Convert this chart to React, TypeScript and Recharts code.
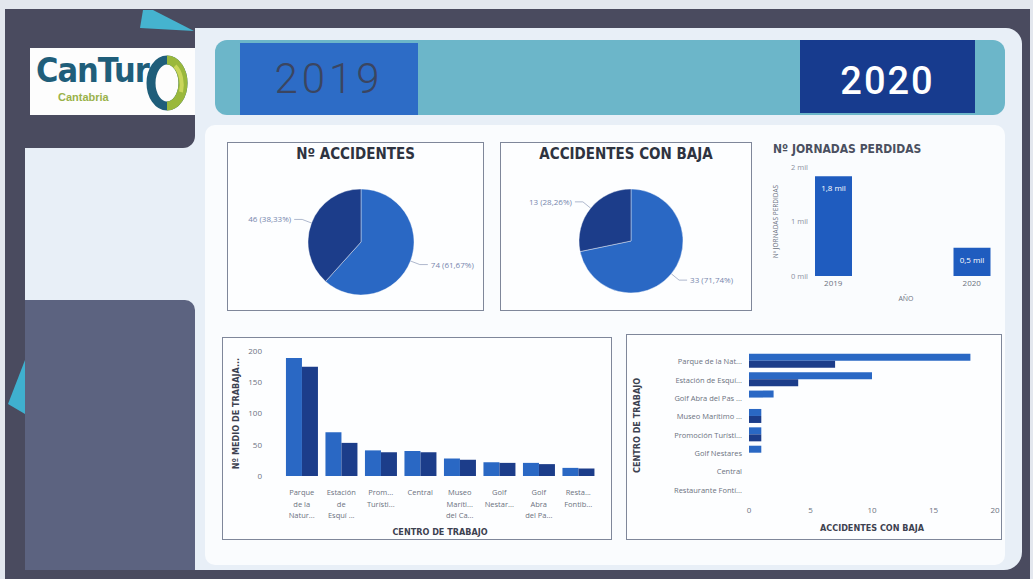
import React from 'react'
import { PieChart, Pie, Cell, BarChart, Bar, XAxis, YAxis, Label, LabelList } from 'recharts'

// pies
const years = ['2019', '2020']
const accidentes = [74, 46]
const accidentesBaja = [33, 13]

// jornadas perdidas por año
const jornadasPerdidas = [1830, 520]

// nº medio de trabajadores por centro
const centros = [
  'Parque de la Naturaleza de Cabárceno',
  'Estación de Esquí Alto Campoo',
  'Promoción Turística',
  'Central',
  'Museo Marítimo del Cantábrico',
  'Golf Nestares',
  'Golf Abra del Pas',
  'Restaurante Fontibre',
]
const centrosTicks = [
  ['Parque', 'de la', 'Natur...'],
  ['Estación', 'de', 'Esquí ...'],
  ['Prom...', 'Turísti...'],
  ['Central'],
  ['Museo', 'Maríti...', 'del Ca...'],
  ['Golf', 'Nestar...'],
  ['Golf', 'Abra', 'del Pa...'],
  ['Resta...', 'Fontib...'],
]
const trabajadores2019 = [189, 70, 41, 40, 28, 22, 21, 13]
const trabajadores2020 = [175, 53, 38, 38, 26, 21, 19, 12]

// accidentes con baja por centro
const centrosBaja = [
  'Parque de la Nat...',
  'Estación de Esquí...',
  'Golf Abra del Pas ...',
  'Museo Marítimo ...',
  'Promoción Turísti...',
  'Golf Nestares',
  'Central',
  'Restaurante Fontí...',
]
const baja2019 = [18, 10, 2, 1, 1, 1, 0, 0]
const baja2020 = [7, 4, 0, 1, 1, 0, 0, 0]

const BLUE = '#2a68c4'
const NAVY = '#1c3d8a'
const TITLE_FONT = "'DejaVu Sans Condensed', 'DejaVu Sans', sans-serif"
const AXIS_TITLE = { fontSize: 9, fontWeight: 700, fill: '#3d4250', fontFamily: TITLE_FONT }

const accidentesData = years.map((y, i) => ({ year: y, value: accidentes[i] }))
const bajaData = years.map((y, i) => ({ year: y, value: accidentesBaja[i] }))
const jornadasData = years.map((y, i) => ({ year: y, value: jornadasPerdidas[i] }))
const trabajadoresData = centros.map((c, i) => ({ centro: c, y2019: trabajadores2019[i], y2020: trabajadores2020[i] }))
const bajaCentroData = centrosBaja.map((c, i) => ({ centro: c, y2019: baja2019[i], y2020: baja2020[i] }))

const RADIAN = Math.PI / 180

const pieLabel = (props: any) => {
  const { cx, cy, midAngle, outerRadius, value, percent } = props
  const cos = Math.cos(-midAngle * RADIAN)
  const sin = Math.sin(-midAngle * RADIAN)
  const sx = cx + outerRadius * cos
  const sy = cy + outerRadius * sin
  const mx = cx + (outerRadius + 10) * cos
  const my = cy + (outerRadius + 10) * sin
  const dir = cos >= 0 ? 1 : -1
  const ex = mx + dir * 8
  const txt = `${value} (${(percent * 100).toFixed(2).replace('.', ',')}%)`
  return (
    <g>
      <path d={`M${sx},${sy}L${mx},${my}L${ex},${my}`} stroke="#9aa6c0" strokeWidth={0.8} fill="none" />
      <text x={ex + dir * 3} y={my} dy={3} textAnchor={dir > 0 ? 'start' : 'end'} fontSize={8} fill="#7686ad">
        {txt}
      </text>
    </g>
  )
}

const CentroTick = (props: any) => {
  const { x, y, index } = props
  const lines = centrosTicks[index] || []
  return (
    <text x={x} y={y} textAnchor="middle" fontSize={7.5} fill="#6c7280">
      {lines.map((l, i) => (
        <tspan key={i} x={x} dy={i === 0 ? 11 : 11.5}>{l}</tspan>
      ))}
    </text>
  )
}

const BajaTick = (props: any) => (
  <text x={props.x} y={props.y} dy={3} textAnchor="end" fontSize={7.5} fill="#6c7280">
    {props.payload.value}
  </text>
)

const milLabel = (props: any) => {
  const { x, y, width, value } = props
  return (
    <text x={Number(x) + Number(width) / 2} y={Number(y) + 15} textAnchor="middle" fontSize={8} fill="#ffffff">
      {`${(Number(value) / 1000).toFixed(1).replace('.', ',')} mil`}
    </text>
  )
}

const box = (left: number, top: number, width: number, height: number, extra: React.CSSProperties = {}): React.CSSProperties => ({
  position: 'absolute', left, top, width, height, boxSizing: 'border-box', ...extra,
})

function PiePanel({ left, width, title, data, cx, cy, r }: any) {
  return (
    <>
      <div style={box(left, 142, width, 169, { border: '1px solid #7f879a', background: '#fdfeff' })} />
      <div style={box(left, 144, width, 20, { textAlign: 'center', fontFamily: TITLE_FONT, fontSize: 15, fontWeight: 700, color: '#2e3340', lineHeight: '20px' })}>
        {title}
      </div>
      <div style={box(left, 142, width, 169)}>
        <PieChart width={width} height={169}>
          <Pie data={data} dataKey="value" nameKey="year" cx={cx} cy={cy} outerRadius={r}
            startAngle={90} endAngle={-270} stroke="#ffffff" strokeWidth={0.4}
            label={pieLabel} labelLine={false} isAnimationActive={false}>
            <Cell fill={BLUE} />
            <Cell fill={NAVY} />
          </Pie>
        </PieChart>
      </div>
    </>
  )
}

export default function App() {
  return (
    <div style={{ position: 'fixed', left: 0, top: 0, width: 1033, height: 579, overflow: 'hidden', background: '#4a4b5f', fontFamily: "'Open Sans', sans-serif" }}>
      {/* photo edges */}
      <div style={box(0, 0, 1033, 9, { background: '#e3e7ee' })} />
      <div style={box(0, 0, 5, 579, { background: '#e3e7ee' })} />
      <div style={box(1030, 0, 3, 579, { background: '#e3e7ee' })} />

      {/* main light panel */}
      <div style={box(25, 28, 997, 542, { background: '#e8eff7', borderRadius: '0 16px 18px 0' })} />
      <div style={box(5, 9, 190, 139, { background: '#4a4b5f', borderBottomRightRadius: 12 })} />
      <div style={box(25, 300, 170, 270, { background: '#5c6380', borderTopRightRadius: 10 })} />
      <svg style={box(0, 0, 1033, 579)} width={1033} height={579}>
        <polygon points="143,10 153,10 194,31 140,28" fill="#45b3cf" />
        <polygon points="25,360 25,414 8,404" fill="#3fb0cf" />
      </svg>

      {/* logo */}
      <div style={box(30, 48, 165, 67, { background: '#fdfdfd' })} />
      <div style={box(36, 50, 112, 40, { fontFamily: "'DejaVu Sans Condensed', sans-serif", fontWeight: 700, fontSize: 34, color: '#1f5e7a', letterSpacing: -1, lineHeight: '40px' })}>
        CanTur
      </div>
      <div style={box(58, 90, 80, 14, { fontFamily: "'Liberation Sans', sans-serif", fontWeight: 700, fontSize: 11, color: '#9ab24a', lineHeight: '14px' })}>
        Cantabria
      </div>
      <svg style={box(145, 52, 48, 60)} width={48} height={60}>
        <ellipse cx={22} cy={31} rx={16} ry={23} fill="none" stroke="#1f5e7a" strokeWidth={9} />
        <path d="M22,8 A16,23 0 0 1 22,54" fill="none" stroke="#9ab83c" strokeWidth={9} />
        <path d="M30,14 A16,23 0 0 1 36,40" fill="none" stroke="#c9d65a" strokeWidth={4} />
      </svg>

      {/* inner white area */}
      <div style={box(205, 125, 800, 440, { background: '#fafcfe', borderRadius: 10 })} />

      {/* header */}
      <div style={box(215, 40, 790, 75, { background: '#6cb6c9', borderRadius: 12 })} />
      <div style={box(240, 43, 178, 72, { background: '#2d6cc6', color: '#3b4560', fontFamily: 'Roboto, sans-serif', fontWeight: 300, fontSize: 42, letterSpacing: 4, textAlign: 'center', lineHeight: '88px' })}>
        <span style={{ position: 'relative', top: -8 }}>2019</span>
      </div>
      <div style={box(800, 40, 175, 73, { background: '#173b8e', color: '#ffffff', fontFamily: 'Roboto, sans-serif', fontWeight: 500, fontSize: 38, letterSpacing: 2, textAlign: 'center', lineHeight: '82px' })}>
        2020
      </div>

      {/* pies */}
      <PiePanel left={227} width={257} title="Nº ACCIDENTES" data={accidentesData} cx={129} cy={95} r={53} />
      <PiePanel left={500} width={252} title="ACCIDENTES CON BAJA" data={bajaData} cx={126} cy={94} r={52} />

      {/* jornadas perdidas */}
      <div style={box(773, 140, 230, 18, { fontFamily: TITLE_FONT, fontWeight: 700, fontSize: 12, color: '#4a5060', lineHeight: '18px' })}>
        Nº JORNADAS PERDIDAS
      </div>
      <div style={box(765, 160, 240, 145)}>
        <BarChart width={240} height={145} data={jornadasData} margin={{ top: 7, right: 5, bottom: 4, left: 4 }}>
          <XAxis dataKey="year" axisLine={false} tickLine={false} tickSize={2} tickMargin={2} height={25}
            padding={{ left: -48, right: -41 }} tick={{ fontSize: 8, fill: '#6c7280' }}>
            <Label value="AÑO" position="insideBottom" offset={0} style={{ fontSize: 7, fill: '#6c7280' }} />
          </XAxis>
          <YAxis domain={[0, 2000]} ticks={[0, 1000, 2000]} width={43} axisLine={false} tickLine={false}
            tickSize={2} tickMargin={2} tick={{ fontSize: 7.5, fill: '#8a90a0' }} tickFormatter={(v) => `${v / 1000} mil`}>
            <Label value="Nº JORNADAS PERDIDAS" angle={-90} position="insideLeft" offset={7}
              style={{ textAnchor: 'middle', fontSize: 6.5, fill: '#6a7080' }} />
          </YAxis>
          <Bar dataKey="value" fill="#1f5cbf" barSize={37} isAnimationActive={false}>
            <LabelList dataKey="value" content={milLabel} />
          </Bar>
        </BarChart>
      </div>

      {/* nº medio de trabajadores */}
      <div style={box(222, 337, 390, 203, { border: '1px solid #7f879a', background: '#fdfeff' })} />
      <div style={box(222, 337, 390, 203)}>
        <BarChart width={390} height={203} data={trabajadoresData} margin={{ top: 14, right: 14, bottom: 2, left: 10 }}
          barCategoryGap="10%" barGap={0}>
          <XAxis dataKey="centro" axisLine={false} tickLine={false} interval={0} height={62} tick={<CentroTick />}>
            <Label value="CENTRO DE TRABAJO" position="insideBottom" offset={3} style={AXIS_TITLE} />
          </XAxis>
          <YAxis domain={[0, 200]} ticks={[0, 50, 100, 150, 200]} width={50} axisLine={false} tickLine={false}
            tickSize={6} tickMargin={14} tick={{ fontSize: 8, fill: '#6c7280' }}>
            <Label value="Nº MEDIO DE TRABAJA..." angle={-90} position="insideLeft" offset={4}
              style={{ ...AXIS_TITLE, textAnchor: 'middle' }} />
          </YAxis>
          <Bar dataKey="y2019" name="2019" fill={BLUE} isAnimationActive={false} />
          <Bar dataKey="y2020" name="2020" fill={NAVY} isAnimationActive={false} />
        </BarChart>
      </div>

      {/* accidentes con baja por centro */}
      <div style={box(626, 334, 376, 206, { border: '1px solid #7f879a', background: '#fdfeff' })} />
      <div style={box(626, 334, 376, 206)}>
        <BarChart layout="vertical" width={376} height={206} data={bajaCentroData}
          margin={{ top: 18, right: 7, bottom: 6, left: 10 }} barCategoryGap="10%" barGap={0}>
          <XAxis type="number" domain={[0, 20]} ticks={[0, 5, 10, 15, 20]} axisLine={false} tickLine={false}
            height={35} tick={{ fontSize: 8, fill: '#6c7280' }}>
            <Label value="ACCIDENTES CON BAJA" position="insideBottom" offset={3} style={AXIS_TITLE} />
          </XAxis>
          <YAxis type="category" dataKey="centro" width={113} axisLine={false} tickLine={false}
            tickSize={6} tickMargin={1} interval={0} tick={<BajaTick />}>
            <Label value="CENTRO DE TRABAJO" angle={-90} position="insideLeft" offset={1}
              style={{ ...AXIS_TITLE, textAnchor: 'middle' }} />
          </YAxis>
          <Bar dataKey="y2019" name="2019" fill={BLUE} isAnimationActive={false} />
          <Bar dataKey="y2020" name="2020" fill={NAVY} isAnimationActive={false} />
        </BarChart>
      </div>
    </div>
  )
}
